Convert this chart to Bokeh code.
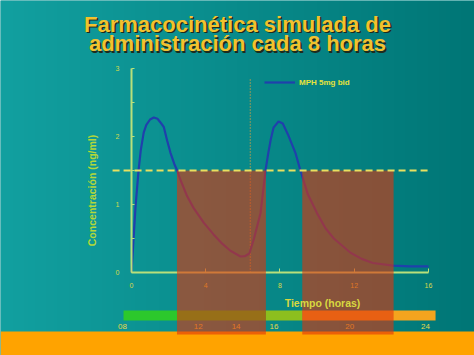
import numpy as np
from math import pi
from bokeh.plotting import figure
from bokeh.models import (LinearAxis, Range1d, FixedTicker, Label, Legend,
                          LegendItem, BoxAnnotation)
from bokeh.embed import file_html
from bokeh.resources import INLINE

# ---------------- data ----------------
time_h = [0, 0.1, 0.22, 0.38, 0.5, 0.66, 0.8, 1.0, 1.2, 1.4, 1.55, 1.74, 1.92,
          2.1, 2.3, 2.46, 2.64, 3.0, 3.34, 3.9, 4.42, 4.9, 5.33, 5.87, 6.1,
          6.35, 6.6, 6.95, 7.22, 7.36, 7.49, 7.65, 7.92, 8.15, 8.46, 8.83, 9.1,
          9.5, 10.0, 10.45, 10.9, 11.8, 12.4, 13.0, 14.1, 15.0, 16.0]
conc = [0, 0.45, 0.98, 1.5, 1.8, 2.06, 2.17, 2.25, 2.28, 2.26, 2.21, 2.14,
        1.94, 1.76, 1.6, 1.5, 1.36, 1.12, 0.95, 0.73, 0.56, 0.42, 0.32, 0.235,
        0.24, 0.28, 0.5, 0.87, 1.5, 1.74, 1.94, 2.13, 2.22, 2.19, 2.01, 1.76,
        1.5, 1.15, 0.87, 0.65, 0.5, 0.29, 0.2, 0.14, 0.1, 0.09, 0.09]
threshold = 1.5
dose2_time = 6.4
window_start = [2.45, 9.2]
window_end = [7.24, 14.12]
x_ticks = [0, 4, 8, 12, 16]
y_ticks = [0, 1, 2, 3]
y_minor = [0.5, 1.5, 2.5]
clock_ticks = [8, 12, 14, 16, 20, 24]
bar_start = [-0.43, 7.24, 9.2]
bar_end = [7.24, 9.2, 16.38]
bar_colors = ["#2cc82c", "#8cbf1e", "#f4a41e"]
legend_label = "MPH 5mg bid"

W, H = 474, 355
X0, X1 = -7.057, 18.478
Y0, Y1 = -1.2206, 4.0

p = figure(width=W, height=H, x_range=Range1d(X0, X1), y_range=Range1d(Y0, Y1),
           output_backend="svg", toolbar_location=None,
           x_axis_location=None, y_axis_location=None, min_border=0)
p.outline_line_color = None
p.background_fill_color = "#0a8f8f"
p.border_fill_color = "#0a8f8f"
p.xgrid.visible = False
p.ygrid.visible = False

# background gradient
n = 256
img = np.zeros((1, n), dtype=np.uint32)
v = img.view(dtype=np.uint8).reshape((1, n, 4))
f = np.linspace(0, 1, n)
v[0, :, 0] = (18 * (1 - f)).astype(np.uint8)
v[0, :, 1] = (160 - 42 * f).astype(np.uint8)
v[0, :, 2] = (160 - 42 * f).astype(np.uint8)
v[0, :, 3] = 255
p.image_rgba(image=[img], x=X0, y=Y0, dw=X1 - X0, dh=Y1 - Y0, level="image")

# orange bottom band
p.add_layout(BoxAnnotation(top=-0.868, fill_color="#ffa300", fill_alpha=1,
                           line_color=None, level="underlay"))

# timeline bar
p.quad(left=bar_start, right=bar_end, top=-0.559, bottom=-0.706,
       fill_color=bar_colors, line_color=None)

# dotted dose line
p.segment(x0=dose2_time, x1=dose2_time, y0=0, y1=2.85, line_color="#e2a23c",
          line_dash="1 2", line_width=1.2)

# axes
axis_col = "#b9e07a"
yaxis = LinearAxis(fixed_location=0, bounds=(0, 3),
                   ticker=FixedTicker(ticks=y_ticks, minor_ticks=y_minor),
                   axis_line_color=axis_col, axis_line_width=2,
                   major_tick_in=3, major_tick_out=0, minor_tick_in=3, minor_tick_out=0,
                   major_tick_line_color=axis_col, minor_tick_line_color=axis_col,
                   major_label_text_color="#d2dc4a", major_label_text_font_size="7px",
                   major_label_text_font="Liberation Sans", major_label_standoff=12)
p.add_layout(yaxis, "left")

xaxis = LinearAxis(fixed_location=0, bounds=(0, 16),
                   ticker=FixedTicker(ticks=x_ticks, minor_ticks=[]),
                   axis_line_color=axis_col, axis_line_width=2,
                   major_tick_in=4, major_tick_out=0, major_tick_line_color=axis_col,
                   major_label_text_color="#dcd84a", major_label_text_font_size="7px",
                   major_label_text_font="Liberation Sans", major_label_standoff=11)
p.add_layout(xaxis, "below")

p.extra_x_ranges = {"clock": Range1d(1.559, 26.585)}
caxis = LinearAxis(x_range_name="clock", fixed_location=-0.713,
                   ticker=FixedTicker(ticks=clock_ticks, minor_ticks=[]),
                   major_label_overrides={8: "08"},
                   axis_line_color=None, major_tick_line_color=None,
                   major_tick_in=0, major_tick_out=0,
                   major_label_text_color="#e6d84a", major_label_text_font_size="8px",
                   major_label_text_font="Liberation Sans", major_label_standoff=3)
p.add_layout(caxis, "below")

# curve (drawn above the axis lines)
curve = p.line(time_h, conc, line_color="#2040ac", line_width=2.2, level="guide")

# therapeutic windows (semi-transparent overlay)
p.quad(left=window_start, right=window_end, top=threshold, bottom=-0.912,
       fill_color="#e0340c", fill_alpha=0.6, line_color=None, level="annotation")

# threshold dashed line
p.segment(x0=-1.02, x1=16.1, y0=threshold, y1=threshold, line_color="#e8e060",
          line_width=2, line_dash="7 4", level="overlay")

# legend
legend = Legend(items=[LegendItem(label=legend_label, renderers=[curve])],
                location=(264, 268), background_fill_alpha=0, border_line_color=None,
                label_text_color="#e6e23c", label_text_font_size="8px",
                label_text_font_style="bold", label_text_font="Liberation Sans",
                glyph_width=31, glyph_height=10, label_height=10, padding=0,
                margin=0, label_standoff=4, spacing=0)
p.add_layout(legend, "center")

# texts
font = "Liberation Sans"
for dx, dy, col in [(1.5, -1.5, "#1d2b1d"), (0, 0, "#f2c12e")]:
    p.add_layout(Label(x=237 + dx, y=331.5 + dy, x_units="screen", y_units="screen",
                       text="Farmacocinética simulada de", text_align="center",
                       text_baseline="alphabetic", text_font=font, text_font_style="bold",
                       text_font_size="22px", text_color=col, level="overlay"))
    p.add_layout(Label(x=237 + dx, y=312 + dy, x_units="screen", y_units="screen",
                       text="administración cada 8 horas", text_align="center",
                       text_baseline="alphabetic", text_font=font, text_font_style="bold",
                       text_font_size="22px", text_color=col, level="overlay"))

p.add_layout(Label(x=91, y=H - 190, x_units="screen", y_units="screen", angle=pi / 2,
                   text="Concentración (ng/ml)", text_align="center", text_baseline="middle",
                   text_font=font, text_font_style="bold", text_font_size="10.5px",
                   text_color="#b4d838", level="overlay"))
p.add_layout(Label(x=322, y=H - 302, x_units="screen", y_units="screen",
                   text="Tiempo (horas)", text_align="center", text_baseline="middle",
                   text_font=font, text_font_style="bold", text_font_size="10.5px",
                   text_color="#d8d840", level="overlay"))

open("out.html", "w").write(file_html(p, INLINE))
